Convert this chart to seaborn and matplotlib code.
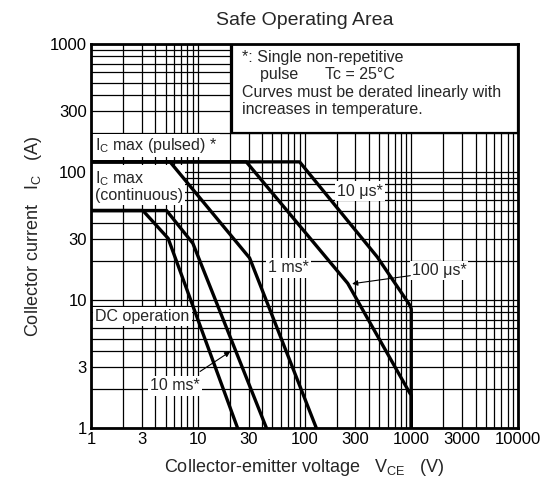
import numpy as np
import pandas as pd
import seaborn as sns
import matplotlib
matplotlib.use("Agg")
import matplotlib.pyplot as plt
from matplotlib.ticker import FixedLocator, NullFormatter, FixedFormatter
from matplotlib.patches import Rectangle

# ---- data ----
v_10us = [1, 90, 480, 980, 1000, 1000]
i_10us = [120, 120, 21.7, 9.0, 8.5, 1]
v_100us = [1, 28.5, 254, 960, 1000, 1000]
i_100us = [120, 120, 13.5, 1.9, 1.8, 1]
v_1ms = [1, 5.5, 30.6, 129]
i_1ms = [120, 120, 21.3, 1]
v_10ms = [1, 5.1, 9.0, 44]
i_10ms = [50, 50, 27.7, 1]
v_dc = [1, 3.06, 5.28, 23.6]
i_dc = [50, 50, 30.3, 1]

x_ticks = [1, 3, 10, 30, 100, 300, 1000, 3000, 10000]
x_tick_labels = ["1", "3", "10", "30", "100", "300", "1000", "3000", "10000"]
y_ticks = [1, 3, 10, 30, 100, 300, 1000]
y_tick_labels = ["1", "3", "10", "30", "100", "300", "1000"]

frames = []
for name, v, i in [("10us", v_10us, i_10us), ("100us", v_100us, i_100us),
                   ("1ms", v_1ms, i_1ms), ("10ms", v_10ms, i_10ms), ("DC", v_dc, i_dc)]:
    frames.append(pd.DataFrame({"V": v, "I": i, "curve": name, "order": range(len(v))}))
df = pd.concat(frames, ignore_index=True)

sns.set_style("white")
plt.rcParams["font.family"] = ["Liberation Sans", "DejaVu Sans"]
plt.rcParams["mathtext.fontset"] = "custom"
plt.rcParams["mathtext.rm"] = "Liberation Sans"

fig = plt.figure(figsize=(5.48, 4.88), dpi=100)
ax = fig.add_axes([91/548, 1 - 428/488, (518-91)/548, (428-44)/488])
ax.set_xscale("log")
ax.set_yscale("log")
ax.set_xlim(1, 10000)
ax.set_ylim(1, 1000)

# grid: lines at 1..9 of every decade
minor_x = [m * 10**d for d in range(0, 4) for m in range(1, 10) if m * 10**d not in x_ticks]
minor_y = [m * 10**d for d in range(0, 3) for m in range(1, 10) if m * 10**d not in y_ticks]
ax.xaxis.set_major_locator(FixedLocator(x_ticks))
ax.xaxis.set_major_formatter(FixedFormatter(x_tick_labels))
ax.xaxis.set_minor_locator(FixedLocator(minor_x))
ax.xaxis.set_minor_formatter(NullFormatter())
ax.yaxis.set_major_locator(FixedLocator(y_ticks))
ax.yaxis.set_major_formatter(FixedFormatter(y_tick_labels))
ax.yaxis.set_minor_locator(FixedLocator(minor_y))
ax.yaxis.set_minor_formatter(NullFormatter())
ax.grid(which="both", color="black", linewidth=0.9)
ax.set_axisbelow(True)
ax.tick_params(which="both", length=0, labelsize=12, colors="black", pad=3)

for s in ax.spines.values():
    s.set_linewidth(2.0)
    s.set_color("black")
    s.set_zorder(7)

for name, g in df.groupby("curve", sort=False):
    sns.lineplot(data=g, x="V", y="I", sort=False, estimator=None, ax=ax,
                 color="black", linewidth=2.4, legend=False, zorder=5)

ax.set_xlabel("Collector-emitter voltage   V$_{\\mathregular{CE}}$   (V)", fontsize=13, labelpad=7)
ax.set_ylabel("Collector current   I$_{\\mathregular{C}}$   (A)", fontsize=13, labelpad=4)
ax.set_title("Safe Operating Area", fontsize=14, pad=14)

wb = dict(facecolor="white", edgecolor="none", pad=1.5)
fs = 11.5

ax.text(1.1, 162, "I$_{\\mathregular{C}}$ max (pulsed) *", fontsize=fs, va="center", ha="left", bbox=wb, zorder=4)
ax.text(1.08, 78, "I$_{\\mathregular{C}}$ max\n(continuous)", fontsize=fs, va="center", ha="left",
        linespacing=1.0, bbox=wb, zorder=4)
ax.text(1.1, 7.4, "DC operation", fontsize=fs, va="center", ha="left", bbox=wb, zorder=4)
ax.text(6.1, 2.13, "10 ms*", fontsize=fs, va="center", ha="center", bbox=wb, zorder=4)
ax.text(71, 17.8, "1 ms*", fontsize=fs, va="center", ha="center", bbox=wb, zorder=4)
ax.text(334, 71, "10 \u03bcs*", fontsize=fs, va="center", ha="center", bbox=wb, zorder=4)
ax.text(1820, 16.9, "100 \u03bcs*", fontsize=fs, va="center", ha="center", bbox=wb, zorder=4)

ax.annotate("", xy=(21.2, 4.07), xytext=(10, 2.69),
            arrowprops=dict(arrowstyle="-|>", color="black", lw=0.8, mutation_scale=8), zorder=4.5)
ax.annotate("", xy=(263, 13.3), xytext=(1040, 15.6),
            arrowprops=dict(arrowstyle="-|>", color="black", lw=0.8, mutation_scale=8), zorder=4.5)

# note box (top right)
ax.add_patch(Rectangle((0.330, 0.768), 0.670, 0.232, transform=ax.transAxes,
                       facecolor="white", edgecolor="black", linewidth=1.6, zorder=6))
note = ("*: Single non-repetitive\n"
        "    pulse      Tc = 25\u00b0C\n"
        "Curves must be derated linearly with\n"
        "increases in temperature.")
ax.text(0.353, 0.985, note, transform=ax.transAxes, fontsize=fs, va="top", ha="left",
        linespacing=1.2, zorder=6.5)

fig.savefig("out.png", dpi=100)
